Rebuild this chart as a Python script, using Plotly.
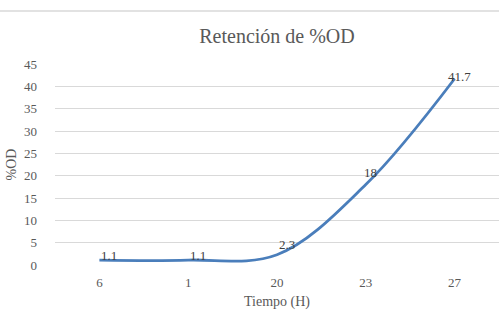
import plotly.graph_objects as go

categories = ["6", "1", "20", "23", "27"]
values = [1.1, 1.1, 2.3, 18, 41.7]
labels = ["1.1", "1.1", "2.3", "18", "41.7"]
y_ticks = [0, 5, 10, 15, 20, 25, 30, 35, 40, 45]

# label offsets (style only, pixels)
label_dx = [10, 10, 10, 5, 5]
label_dy = [5, 5, 10, 12, 2]

serif = "Liberation Serif"
gray = "#595959"

fig = go.Figure()
fig.add_trace(go.Scatter(
    x=categories, y=values, mode="lines",
    line=dict(color="#4A7EBB", width=2.8, shape="spline", smoothing=1),
    hoverinfo="skip", showlegend=False,
))

for i, (v, t, dx, dy) in enumerate(zip(values, labels, label_dx, label_dy)):
    fig.add_annotation(x=i, y=v, text=t, showarrow=False, xshift=dx, yshift=dy,
                       font=dict(family=serif, size=13, color="#404040"))

fig.add_shape(type="line", xref="paper", yref="paper", x0=-0.13, x1=1.0,
              y0=1.264, y1=1.264, line=dict(color="#D9D9D9", width=1.5))

fig.update_layout(
    width=499, height=315,
    margin=dict(l=55, r=0, t=64, b=50),
    paper_bgcolor="white", plot_bgcolor="white",
    title=dict(text="Retención de %OD", x=0.5, xanchor="center", xref="paper",
               y=1 - 36 / 315, yanchor="middle",
               font=dict(family=serif, size=20, color=gray)),
    xaxis=dict(type="category", range=[-0.5, 4.5], showgrid=False, zeroline=False,
               showline=False, ticks="", ticklabelstandoff=8,
               tickfont=dict(family=serif, size=13, color=gray),
               title=dict(text="Tiempo (H)", font=dict(family=serif, size=14, color=gray),
                          standoff=7)),
    yaxis=dict(range=[0, 45], tickvals=y_ticks, showgrid=True, gridcolor="#D9D9D9",
               gridwidth=1, zeroline=False, showline=False, ticks="", ticklabelstandoff=17,
               tickfont=dict(family=serif, size=13, color=gray),
               title=dict(text="%OD", font=dict(family=serif, size=14, color=gray),
                          standoff=4)),
)

fig.write_html("out.html")
